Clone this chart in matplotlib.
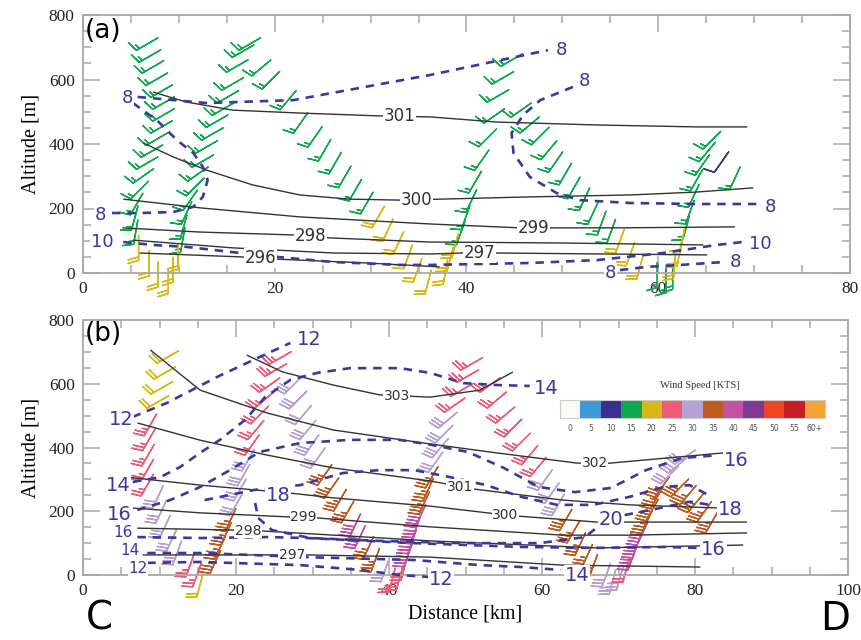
import numpy as np
import matplotlib
matplotlib.use("Agg")
import matplotlib.pyplot as plt
from matplotlib.colors import ListedColormap, BoundaryNorm
from matplotlib.ticker import MultipleLocator

# ---------------- wind speed colour scale ----------------
speed_bins = [0, 5, 10, 15, 20, 25, 30, 35, 40, 45, 50, 55, 60, 65]
speed_labels = ["0", "5", "10", "15", "20", "25", "30", "35", "40", "45", "50", "55", "60+"]
speed_colors = ["#fbfbf5", "#3d9ad6", "#3a2f8e", "#0ea84e", "#d8b812", "#ee5a78",
                "#b7a1d3", "#bf5b1f", "#c251a3", "#7f3a97", "#ee4527", "#c61e25", "#f6a236"]

# ---------------- panel (a): potential temperature lines ----------------
a_th301_x = [7.3, 10.8, 15.6, 22.6, 31.0, 36.2, 43.2, 53.6, 64.0, 69.3]
a_th301_z = [561, 530, 505, 496, 487, 484, 468, 459, 453, 453]
a_th300_x = [6.3, 9.4, 12.9, 17.7, 22.6, 27.8, 33.1, 37.2, 46.6, 57.1, 64.0, 69.9]
a_th300_z = [403, 360, 319, 273, 242, 229, 226, 229, 236, 242, 251, 264]
a_th299_x = [4.2, 12.2, 22.6, 36.2, 45.6, 56.0, 68.0]
a_th299_z = [229, 202, 174, 152, 140, 140, 143]
a_th298_x = [4.1, 12.2, 21.9, 25.6, 36.2, 50.1, 64.7]
a_th298_z = [140, 127, 118, 109, 96, 93, 87]
a_th297_x = [5.2, 15.6, 26.1, 36.2, 39.6, 43.2, 65.1]
a_th297_z = [102, 78, 62, 59, 62, 62, 56]
a_th296_x = [5.9, 16.4, 20.2, 29.6, 37.2]
a_th296_z = [62, 50, 43, 31, 19]

# ---------------- panel (a): dashed (blue) lines ----------------
a_q8top_x = [5.7, 12.9, 21.9, 36.2, 48.5]
a_q8top_z = [546, 527, 536, 614, 691]
a_q8left_x = [5.2, 7.7, 9.8, 11.5, 12.5, 13.0, 12.5, 11.5, 9.4, 5.9, 2.8]
a_q8left_z = [527, 474, 412, 372, 329, 288, 236, 205, 189, 186, 186]
a_q8right_x = [51.1, 47.7, 45.9, 44.7, 44.9, 46.6, 49.4, 51.8, 57.1, 64.0, 70.6]
a_q8right_z = [577, 536, 490, 434, 372, 298, 248, 226, 217, 214, 214]
a_q10_x = [4.2, 7.3, 10.8, 16.4, 20.2, 26.1, 33.1, 36.2, 46.6, 53.6, 60.5, 66.1, 68.8]
a_q10_z = [96, 87, 81, 62, 50, 34, 25, 25, 31, 40, 62, 87, 96]
a_q8bot_x = [56.0, 58.8, 62.3, 66.8]
a_q8bot_z = [9, 19, 25, 34]

# ---------------- panel (a): wind barbs (distance km, altitude m, speed kt, direction deg) ----
a_barb_x = [6.7, 7.0, 7.3, 7.7, 8.2, 8.4, 8.4, 8.2, 7.7, 7.2, 6.7, 6.3, 5.9, 5.6, 5.4, 5.5,
            5.8, 6.9, 7.8,
            17.4, 16.7, 16.1, 15.6, 15.1, 14.6, 14.0, 13.5, 12.9, 12.5, 12.0, 11.7, 11.2, 10.8, 10.5, 10.4,
            9.9, 9.4, 8.9,
            18.6, 19.6, 21.4, 22.7, 24.2, 25.2, 26.3, 27.3, 28.4, 29.6,
            30.8, 31.8, 32.9, 33.9, 34.9, 36.0,
            44.7, 43.8, 43.3, 42.9, 42.2, 41.6, 40.9, 40.5, 39.9, 39.4,
            38.8, 38.3, 37.8,
            45.7, 46.6, 47.7, 48.6, 49.3, 50.3, 51.2, 52.3, 53.2, 54.1, 55.1,
            56.0, 57.1, 58.1,
            59.9, 60.8, 61.5,
            65.6, 65.1, 64.6, 64.0, 63.7, 63.3, 62.9,
            62.5, 62.2, 61.7,
            66.6, 68.0]
a_barb_z = [710, 673, 639, 601, 564, 527, 490, 453, 415, 378, 341, 301, 257, 214, 171, 127,
            78, 30, -5,
            710, 688, 642, 586, 546, 508, 471, 431, 391, 347, 307, 267, 226, 186, 143, 102,
            50, 10, -25,
            636, 598, 536, 465, 422, 381, 341, 298, 257, 217,
            174, 133, 93, 50, 9, -28,
            660, 605, 549, 487, 419, 350, 282, 223, 171, 124,
            84, 43, 3,
            505, 459, 425, 381, 344, 307, 264, 229, 186, 155, 130,
            99, 59, 19,
            -6, -22, -12,
            412, 375, 335, 288, 239, 189, 140,
            99, 59, 22,
            344, 294]
a_barb_spd = [15] * 16 + [20] * 3 + [15] * 16 + [20] * 3 + [15] * 10 + [20] * 6 + \
             [15] * 10 + [20] * 3 + [15] * 11 + [20] * 3 + [15] * 3 + [15] * 7 + [20] * 3 + [10, 15]
a_barb_dir = [30, 30, 30, 30, 30, 30, 30, 30, 30, 30, 30, 35, 45, 60, 75, 80,
              90, 90, 90,
              30, 30, 30, 30, 30, 30, 30, 30, 30, 30, 35, 45, 55, 65, 75, 80,
              90, 90, 90,
              40, 45, 50, 55, 55, 60, 60, 60, 60, 60,
              60, 65, 65, 70, 70, 75,
              30, 30, 30, 35, 45, 55, 60, 65, 70, 70,
              75, 75, 80,
              35, 40, 45, 50, 55, 60, 60, 65, 65, 70, 70,
              70, 70, 75,
              90, 90, 90,
              45, 50, 55, 60, 65, 70, 75,
              80, 80, 85,
              55, 65]

# ---------------- panel (b): potential temperature lines ----------------
b_th303_x = [21.4, 26.1, 32.7, 38.8, 45.4, 51.9, 56.2]
b_th303_z = [690, 637, 596, 565, 558, 580, 637]
b_th302_x = [8.8, 15.3, 24.1, 32.7, 45.4, 54.1, 64.6, 68.9, 83.7]
b_th302_z = [706, 580, 508, 455, 411, 383, 351, 351, 383]
b_th301_x = [7.1, 15.3, 24.1, 32.7, 45.4, 51.0, 62.7, 71.5, 83.3]
b_th301_z = [477, 423, 376, 336, 295, 270, 235, 220, 210]
b_th300_x = [5.8, 15.3, 27.1, 32.7, 45.4, 53.2, 56.7, 67.2, 86.8]
b_th300_z = [307, 282, 257, 242, 216, 194, 185, 166, 166]
b_th299_x = [6.5, 15.3, 27.1, 30.6, 45.4, 62.7, 71.5, 86.8]
b_th299_z = [210, 195, 182, 179, 151, 125, 125, 132]
b_th298_x = [7.1, 19.6, 23.5, 37.1, 45.4, 67.2, 86.3]
b_th298_z = [147, 141, 138, 119, 107, 85, 94]
b_th297_x = [7.8, 25.4, 29.3, 45.4, 62.7, 80.7]
b_th297_z = [63, 63, 63, 56, 31, 25]

# ---------------- panel (b): dashed (blue) lines ----------------
b_q12top_x = [6.5, 11.0, 17.5, 23.1, 27.1]
b_q12top_z = [496, 540, 621, 684, 728]
b_q14top_x = [6.5, 10.1, 12.7, 15.3, 17.9, 21.2, 23.8, 27.1, 30.6, 34.9, 41.4, 45.4, 49.7, 54.1, 58.4]
b_q14top_z = [292, 307, 339, 383, 424, 487, 558, 612, 634, 649, 649, 634, 602, 596, 593]
b_q16top_x = [7.1, 11.4, 15.3, 19.2, 23.1, 28.4, 34.9, 41.4, 45.6, 50.3, 55.0, 59.6, 64.3, 69.0, 73.6, 78.3, 83.0]
b_q16top_z = [204, 235, 276, 329, 386, 414, 424, 424, 408, 386, 336, 276, 260, 273, 329, 367, 376]
b_q18_x = [15.9, 22.4, 28.4, 34.0, 38.7, 43.3, 48.0, 52.7, 57.3, 62.0, 66.7, 71.4, 75.9, 79.3, 82.2]
b_q18_z = [235, 267, 282, 320, 329, 329, 307, 282, 245, 220, 220, 245, 276, 282, 245]
b_q20_x = [22.5, 22.9, 24.7, 29.7, 38.8, 49.3, 59.7, 65.6, 67.6]
b_q20_z = [226, 179, 141, 116, 107, 100, 100, 119, 157]
b_q20r_x = [70.8, 75.4, 79.3, 82.0]
b_q20r_z = [188, 210, 230, 220]
b_q16low_x = [7.1, 15.3, 24.1, 29.3, 43.3, 57.3, 66.7, 75.9, 80.4]
b_q16low_z = [119, 116, 119, 116, 100, 88, 85, 88, 85]
b_q14low_x = [8.4, 15.3, 21.8, 29.3, 43.3, 51.9, 57.3, 62.4]
b_q14low_z = [69, 69, 63, 56, 47, 31, 25, 16]
b_q12low_x = [8.4, 15.3, 28.4, 36.2, 41.4, 45.1]
b_q12low_z = [38, 41, 31, 16, 0, -6]

# ---------------- panel (b): wind barbs ----------------
b_barb_x = [11.1, 10.7, 10.3, 9.8,
            8.8, 8.6, 8.5, 8.4, 8.4,
            9.8, 10.2, 10.7, 11.6, 12.3,
            14.0, 14.9, 15.3,
            17.3, 17.9, 18.7, 19.3,
            20.0, 20.5, 21.0, 21.6,
            22.1, 22.6, 23.1, 23.7, 24.4, 25.2, 25.8,
            27.5, 28.1, 28.8, 29.4, 29.9, 30.7,
            31.6, 32.5, 33.6, 34.6,
            35.6, 36.2,
            37.3, 38.2, 39.5, 40.4,
            41.4, 42.0,
            42.5, 43.0, 43.5, 44.1,
            44.6, 45.1, 45.6,
            46.1, 46.7, 47.2, 47.7,
            48.6, 49.5, 50.3, 50.8,
            53.2, 54.1, 55.2, 56.2, 57.3, 58.4, 59.5,
            60.4, 61.3, 62.1,
            63.1, 64.1, 65.0, 65.9, 66.7,
            68.4, 69.2,
            70.2, 71.0,
            71.8, 72.4, 73.1,
            73.7, 74.4, 75.0, 75.7,
            76.7, 77.8, 78.7,
            78.0, 79.1, 80.1, 81.2, 82.2]
b_barb_z = [684, 634, 587, 543,
            471, 424, 376, 329, 282,
            245, 198, 151, 110, 69,
            31, 0, -31,
            41, 85, 129, 173,
            220, 267, 314, 361,
            408, 455, 502, 549, 596, 643, 681,
            596, 549, 502, 455, 408, 367,
            314, 273, 235, 198,
            157, 119,
            85, 47, 16, -16,
            -9, 22,
            63, 104, 144, 185,
            226, 267, 307,
            354, 398, 442, 486,
            533, 580, 624, 662,
            596, 549, 502, 461, 417, 376, 339,
            298, 257, 220,
            173, 135, 97, 60, 28,
            0, -22,
            -9, 16,
            53, 91, 129,
            166, 204, 242, 276,
            314, 345, 370,
            273, 251, 226, 198, 166]
b_barb_spd = [20] * 4 + [25] * 5 + [30] * 5 + [25, 25, 20] + [35] * 4 + [30] * 4 + [25] * 7 + \
             [30] * 6 + [35] * 4 + [40] * 2 + [35, 35, 30, 25] + [25] * 2 + [40] * 4 + [35] * 3 + \
             [30] * 4 + [25] * 4 + [25] * 7 + [30] * 3 + [35] * 5 + [30] * 2 + [30, 25] + \
             [40] * 3 + [35] * 4 + [30] * 3 + [35] * 5
b_barb_dir = [30, 30, 30, 30,
              60, 60, 60, 60, 60,
              65, 65, 65, 65, 70,
              70, 70, 75,
              65, 65, 65, 65,
              60, 60, 60, 60,
              55, 50, 45, 40, 35, 30, 30,
              45, 45, 50, 50, 55, 55,
              55, 55, 60, 60,
              65, 65,
              65, 70, 70, 75,
              75, 75,
              70, 70, 70, 65,
              65, 65, 60,
              55, 50, 45, 40,
              35, 30, 30, 30,
              35, 40, 40, 45, 45, 50, 50,
              55, 55, 60,
              60, 60, 65, 65, 70,
              70, 75,
              75, 75,
              70, 70, 65,
              65, 60, 60, 55,
              45, 40, 35,
              45, 50, 50, 55, 60]

# ---------------- styling ----------------
BLUE = "#3b36a0"
BLACK = "#333333"
GREY = "#a8a8a8"
SERIF = "Liberation Serif"
SANS = "DejaVu Sans"

cmap = ListedColormap(speed_colors)
norm = BoundaryNorm(speed_bins, cmap.N)

fig = plt.figure(figsize=(8.62, 6.40), dpi=100)
ax_a = fig.add_axes([83 / 862, 1 - 273 / 640, 767 / 862, 258 / 640])
ax_b = fig.add_axes([83 / 862, 1 - 575 / 640, 765 / 862, 255 / 640])

white_box = dict(boxstyle="square,pad=0.04", fc="white", ec="none")


def style_axes(ax, xmax, xmajor):
    ax.set_xlim(0, xmax)
    ax.set_ylim(0, 800)
    ax.xaxis.set_major_locator(MultipleLocator(xmajor))
    ax.xaxis.set_minor_locator(MultipleLocator(5))
    ax.yaxis.set_major_locator(MultipleLocator(200))
    ax.yaxis.set_minor_locator(MultipleLocator(50))
    ax.tick_params(which="both", direction="in", top=True, right=True, color=GREY, width=1.1,
                   labelsize=12.5, labelcolor="#222222")
    ax.tick_params(which="major", length=12, pad=6)
    ax.tick_params(which="minor", length=6)
    for lab in ax.get_xticklabels() + ax.get_yticklabels():
        lab.set_fontfamily(SERIF)
    for s in ax.spines.values():
        s.set_color(GREY)
        s.set_linewidth(1.3)
    ax.set_ylabel("Altitude [m]", fontsize=14.5, family=SERIF, labelpad=6)


def iso(ax, x, z, label, lab_x, fs):
    ax.plot(x, z, color=BLACK, lw=1.0, zorder=3, solid_capstyle="butt")
    y = np.interp(lab_x, x, z)
    ax.text(lab_x, y, label, ha="center", va="center", fontsize=fs, color="#333333",
            family=SANS, bbox=white_box, zorder=6)


def dashed(ax, x, z):
    ax.plot(x, z, color=BLUE, lw=1.9, ls=(0, (3.2, 2.6)), zorder=4, clip_on=False)


def blab(ax, x, z, text, fs):
    ax.text(x, z, text, ha="center", va="center_baseline", fontsize=fs, color=BLUE, family=SANS,
            bbox=white_box, zorder=7, clip_on=False)


def draw_barbs(ax, bx, bz, spd, ang):
    spd = np.asarray(spd, float)
    th = np.deg2rad(np.asarray(ang, float))
    u = spd * np.cos(th)
    v = spd * np.sin(th)
    ax.barbs(bx, bz, u, v, spd, cmap=cmap, norm=norm, length=6.0, pivot="middle",
             linewidth=1.0, zorder=2, clip_on=False,
             sizes=dict(spacing=0.14, height=0.42, width=0.25))


# ---------------- panel (a) ----------------
style_axes(ax_a, 80, 20)
draw_barbs(ax_a, a_barb_x, a_barb_z, a_barb_spd, a_barb_dir)
iso(ax_a, a_th301_x, a_th301_z, "301", 33.0, 12)
iso(ax_a, a_th300_x, a_th300_z, "300", 34.8, 12)
iso(ax_a, a_th299_x, a_th299_z, "299", 47.0, 12)
iso(ax_a, a_th298_x, a_th298_z, "298", 23.7, 12)
iso(ax_a, a_th297_x, a_th297_z, "297", 41.4, 12)
iso(ax_a, a_th296_x, a_th296_z, "296", 18.5, 12)
for xx, zz in [(a_q8top_x, a_q8top_z), (a_q8left_x, a_q8left_z), (a_q8right_x, a_q8right_z),
               (a_q10_x, a_q10_z), (a_q8bot_x, a_q8bot_z)]:
    dashed(ax_a, xx, zz)
blab(ax_a, 4.6, 548, "8", 13)
blab(ax_a, 49.9, 697, "8", 13)
blab(ax_a, 1.8, 186, "8", 13)
blab(ax_a, 52.3, 600, "8", 13)
blab(ax_a, 71.7, 212, "8", 13)
blab(ax_a, 2.0, 102, "10", 13)
blab(ax_a, 70.6, 96, "10", 13)
blab(ax_a, 55.0, 6, "8", 13)
blab(ax_a, 68.0, 40, "8", 13)

# ---------------- panel (b) ----------------
style_axes(ax_b, 100, 20)
ax_b.set_xlabel("Distance [km]", fontsize=14.5, family=SERIF, labelpad=4)
draw_barbs(ax_b, b_barb_x, b_barb_z, b_barb_spd, b_barb_dir)
iso(ax_b, b_th303_x, b_th303_z, "303", 41.0, 10)
iso(ax_b, b_th302_x, b_th302_z, "302", 66.9, 10)
iso(ax_b, b_th301_x, b_th301_z, "301", 49.3, 10)
iso(ax_b, b_th300_x, b_th300_z, "300", 55.2, 10)
iso(ax_b, b_th299_x, b_th299_z, "299", 28.8, 10)
iso(ax_b, b_th298_x, b_th298_z, "298", 21.6, 10)
iso(ax_b, b_th297_x, b_th297_z, "297", 27.3, 10)
for xx, zz in [(b_q12top_x, b_q12top_z), (b_q14top_x, b_q14top_z), (b_q16top_x, b_q16top_z),
               (b_q18_x, b_q18_z), (b_q20_x, b_q20_z), (b_q20r_x, b_q20r_z),
               (b_q16low_x, b_q16low_z), (b_q14low_x, b_q14low_z), (b_q12low_x, b_q12low_z)]:
    dashed(ax_b, xx, zz)
blab(ax_b, 5.0, 495, "12", 14)
blab(ax_b, 29.6, 745, "12", 14)
blab(ax_b, 4.6, 288, "14", 14)
blab(ax_b, 60.6, 590, "14", 14)
blab(ax_b, 4.8, 196, "16", 14)
blab(ax_b, 85.4, 367, "16", 14)
blab(ax_b, 25.5, 257, "18", 14)
blab(ax_b, 84.6, 213, "18", 14)
blab(ax_b, 69.0, 179, "20", 14)
blab(ax_b, 5.2, 138, "16", 11)
blab(ax_b, 82.4, 85, "16", 14)
blab(ax_b, 6.1, 82, "14", 11)
blab(ax_b, 7.2, 25, "12", 11)
blab(ax_b, 64.6, 6, "14", 14)
blab(ax_b, 46.8, -9, "12", 14)

# ---------------- colour legend ----------------
cax = fig.add_axes([560 / 862, 1 - 418 / 640, 265 / 862, 18 / 640])
cax.imshow(np.arange(len(speed_colors))[None, :], cmap=cmap, aspect="auto",
           extent=(-0.5, len(speed_colors) - 0.5, 0, 1))
cax.set_xticks(range(len(speed_labels)))
cax.set_xticklabels(speed_labels, fontsize=5.5, color="#555555", family=SANS)
cax.tick_params(length=0, pad=4)
cax.set_yticks([])
for s in cax.spines.values():
    s.set_color("#cccccc")
    s.set_linewidth(0.8)
fig.text(700 / 862, 1 - 386 / 640, "Wind Speed [KTS]", ha="center", va="center",
         fontsize=7.5, family=SERIF, color="#333333")

# ---------------- panel letters ----------------
fig.text(85 / 862, 1 - 31 / 640, "(a)", ha="left", va="center", fontsize=19, family=SANS)
fig.text(85 / 862, 1 - 334 / 640, "(b)", ha="left", va="center", fontsize=19, family=SANS)
fig.text(86 / 862, 1 - 630 / 640, "C", ha="left", va="baseline", fontsize=28, family=SANS)
fig.text(850 / 862, 1 - 630 / 640, "D", ha="right", va="baseline", fontsize=28, family=SANS)

fig.savefig("out.png", dpi=100)
